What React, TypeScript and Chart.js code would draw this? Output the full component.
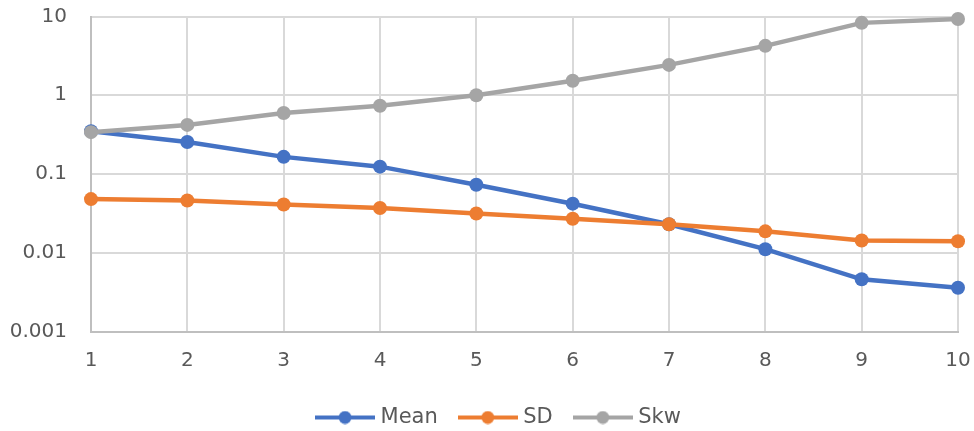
import { useEffect, useRef } from "react";
import { Chart, registerables } from "chart.js";

Chart.register(...registerables);

const categories = ["1", "2", "3", "4", "5", "6", "7", "8", "9", "10"];
const meanValues = [0.35, 0.255, 0.165, 0.124, 0.073, 0.042, 0.023, 0.0111, 0.0046, 0.0036];
const sdValues = [0.048, 0.046, 0.041, 0.037, 0.0315, 0.027, 0.023, 0.0187, 0.0143, 0.014];
const skwValues = [0.34, 0.42, 0.595, 0.735, 1.0, 1.53, 2.43, 4.24, 8.3, 9.3];
const yTickValues = [0.001, 0.01, 0.1, 1, 10];
const seriesNames = ["Mean", "SD", "Skw"];
const seriesColors = ["#4472C4", "#ED7D31", "#A5A5A5"];

const FONT = "'DejaVu Sans', sans-serif";
const TEXT_COLOR = "#595959";

function makeIcon(color: string): HTMLCanvasElement {
  const c = document.createElement("canvas");
  c.width = 60;
  c.height = 14;
  const ctx = c.getContext("2d")!;
  ctx.strokeStyle = color;
  ctx.lineWidth = 4;
  ctx.beginPath();
  ctx.moveTo(0, 7);
  ctx.lineTo(60, 7);
  ctx.stroke();
  ctx.fillStyle = color;
  ctx.beginPath();
  ctx.arc(30, 7, 6.5, 0, Math.PI * 2);
  ctx.fill();
  return c;
}

const legendShift = {
  id: "legendShift",
  afterLayout(chart: any) {
    if (chart.legend) chart.legend.left = 43;
  },
};

export default function App() {
  const canvasRef = useRef<HTMLCanvasElement | null>(null);

  useEffect(() => {
    if (!canvasRef.current) return;
    const icons = seriesColors.map(makeIcon);
    const seriesData = [meanValues, sdValues, skwValues];
    const drawOrder = [2, 1, 0];
    const chart = new Chart(canvasRef.current, {
      type: "line",
      data: {
        labels: categories,
        datasets: seriesNames.map((name, i) => ({
          label: name,
          data: seriesData[i],
          borderColor: seriesColors[i],
          backgroundColor: seriesColors[i],
          pointBackgroundColor: seriesColors[i],
          pointBorderColor: seriesColors[i],
          pointBorderWidth: 0,
          pointRadius: 7,
          borderWidth: 4.5,
          tension: 0,
          clip: false as any,
          order: drawOrder[i],
        })),
      },
      plugins: [legendShift],
      options: {
        responsive: false,
        animation: false,
        layout: { padding: { left: 8, right: 16, top: 16.5, bottom: 0 } },
        scales: {
          x: {
            type: "category",
            offset: false,
            grid: { color: "#d9d9d9", lineWidth: 2, drawTicks: false },
            border: { color: "#bfbfbf", width: 2 },
            ticks: {
              padding: 17,
              maxRotation: 0,
              autoSkip: false,
              color: TEXT_COLOR,
              font: { family: FONT, size: 20 },
            },
            afterFit: (scale: any) => {
              scale.height = 50.5;
              scale.paddingLeft = 0;
              scale.paddingRight = 0;
            },
          },
          y: {
            type: "logarithmic",
            min: 0.001,
            max: 10,
            grid: { color: "#d9d9d9", lineWidth: 2, drawTicks: false },
            border: { color: "#bfbfbf", width: 2 },
            ticks: {
              padding: 24,
              color: TEXT_COLOR,
              font: { family: FONT, size: 20 },
              callback: (v: any) => String(v),
            },
            afterBuildTicks: (scale: any) => {
              scale.ticks = yTickValues.map((v) => ({ value: v }));
            },
            afterFit: (scale: any) => {
              scale.width = 83;
              scale.paddingTop = 0;
              scale.paddingBottom = 0;
            },
          },
        },
        plugins: {
          tooltip: { enabled: false },
          legend: {
            position: "bottom",
            labels: {
              usePointStyle: true,
              pointStyleWidth: 50,
              padding: 25,
              color: TEXT_COLOR,
              font: { family: FONT, size: 21 },
              sort: (a: any, b: any) => a.datasetIndex - b.datasetIndex,
              generateLabels: (ch: any) => {
                const items = (Chart.defaults.plugins.legend.labels as any).generateLabels(ch);
                return items.map((it: any) => ({ ...it, pointStyle: icons[it.datasetIndex] }));
              },
            },
          },
        },
      } as any,
    });
    return () => chart.destroy();
  }, []);

  return (
    <div
      style={{
        position: "fixed",
        left: 0,
        top: 0,
        width: 974,
        height: 431,
        overflow: "hidden",
        background: "#fff",
      }}
    >
      <canvas ref={canvasRef} width={974} height={438} style={{ display: "block" }} />
    </div>
  );
}
